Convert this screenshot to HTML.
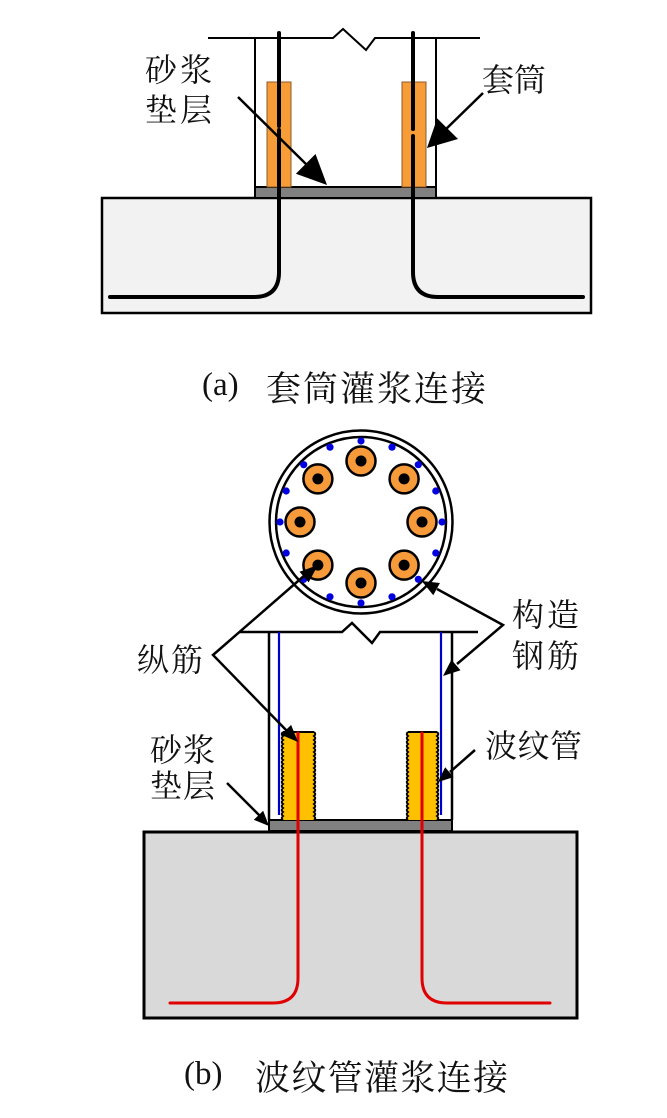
<!DOCTYPE html>
<html>
<head>
<meta charset="utf-8">
<style>
  html,body{margin:0;padding:0;background:#fff;}
  svg{display:block;}
  .cjk{font-family:"Liberation Serif","Noto Serif CJK SC",serif;fill:#111;}
  .lat{font-family:"Liberation Serif",serif;fill:#111;}
</style>
</head>
<body>
<svg width="667" height="1118" viewBox="0 0 667 1118" xmlns="http://www.w3.org/2000/svg">
  <rect x="0" y="0" width="667" height="1118" fill="#fff"/>

  <!-- ================= (a) ================= -->
  <rect x="102" y="198" width="489" height="115" fill="#f2f2f2" stroke="#000" stroke-width="2.5"/>
  <rect x="255" y="187" width="181" height="11" fill="#808080" stroke="#000" stroke-width="2"/>
  <line x1="255" y1="38" x2="255" y2="187" stroke="#000" stroke-width="2"/>
  <line x1="436" y1="38" x2="436" y2="187" stroke="#000" stroke-width="2"/>
  <polyline points="208,38 333,38 343,29 366,50 375,38 480,38" fill="none" stroke="#000" stroke-width="2"/>
  <rect x="267" y="82" width="24" height="105" fill="#F89C38" stroke="#8B5A2B" stroke-width="1"/>
  <rect x="402" y="82" width="24" height="105" fill="#F89C38" stroke="#8B5A2B" stroke-width="1"/>
  <path d="M279,33 V126" fill="none" stroke="#000" stroke-width="4" stroke-linecap="round"/>
  <path d="M279,130 V272 Q279,297 254,297 H110" fill="none" stroke="#000" stroke-width="4" stroke-linecap="round"/>
  <path d="M413,33 V129" fill="none" stroke="#000" stroke-width="4" stroke-linecap="round"/>
  <path d="M413,136 V272 Q413,297 438,297 H583" fill="none" stroke="#000" stroke-width="4" stroke-linecap="round"/>
  <line x1="238" y1="97" x2="310" y2="168" stroke="#000" stroke-width="2.5"/>
  <polygon points="327,185 295.9,173.8 315.5,154" fill="#000"/>
  <line x1="483" y1="93" x2="443" y2="132" stroke="#000" stroke-width="2.5"/>
  <polygon points="427,148 437.2,118.4 458,139" fill="#000"/>
  <text class="cjk" x="145" y="81" font-size="32" textLength="67" lengthAdjust="spacing">砂浆</text>
  <text class="cjk" x="145" y="121" font-size="32" textLength="67" lengthAdjust="spacing">垫层</text>
  <text class="cjk" x="482" y="91" font-size="32" textLength="64" lengthAdjust="spacing">套筒</text>
  <text class="lat" x="202" y="395" font-size="33">(a)</text>
  <text class="cjk" x="266" y="401" font-size="35" textLength="220" lengthAdjust="spacing">套筒灌浆连接</text>

  <!-- ================= (b) ================= -->
  <circle cx="361" cy="522" r="91.5" fill="#fff" stroke="#000" stroke-width="2.5"/>
  <circle cx="361" cy="522" r="85" fill="#fff" stroke="#000" stroke-width="2.5"/>
  <g fill="#0000E0">
    <circle cx="361" cy="441" r="3.6"/>
    <circle cx="361" cy="603" r="3.6"/>
    <circle cx="280" cy="522" r="3.6"/>
    <circle cx="442" cy="522" r="3.6"/>
    <circle cx="392" cy="447.2" r="3.6"/>
    <circle cx="330" cy="447.2" r="3.6"/>
    <circle cx="392" cy="596.8" r="3.6"/>
    <circle cx="330" cy="596.8" r="3.6"/>
    <circle cx="435.8" cy="491" r="3.6"/>
    <circle cx="286.2" cy="491" r="3.6"/>
    <circle cx="435.8" cy="553" r="3.6"/>
    <circle cx="286.2" cy="553" r="3.6"/>
    <circle cx="418.3" cy="464.7" r="3.6"/>
    <circle cx="303.7" cy="464.7" r="3.6"/>
    <circle cx="418.3" cy="579.3" r="3.6"/>
    <circle cx="303.7" cy="579.3" r="3.6"/>
  </g>
  <g stroke="#000" stroke-width="2.5" fill="#F79A3A">
    <circle cx="361" cy="461" r="14.5"/>
    <circle cx="361" cy="583" r="14.5"/>
    <circle cx="300" cy="522" r="14.5"/>
    <circle cx="422" cy="522" r="14.5"/>
    <circle cx="404.1" cy="478.9" r="14.5"/>
    <circle cx="317.9" cy="478.9" r="14.5"/>
    <circle cx="404.1" cy="565.1" r="14.5"/>
    <circle cx="317.9" cy="565.1" r="14.5"/>
  </g>
  <g fill="#000">
    <circle cx="361" cy="461" r="5.5"/>
    <circle cx="361" cy="583" r="5.5"/>
    <circle cx="300" cy="522" r="5.5"/>
    <circle cx="422" cy="522" r="5.5"/>
    <circle cx="404.1" cy="478.9" r="5.5"/>
    <circle cx="317.9" cy="478.9" r="5.5"/>
    <circle cx="404.1" cy="565.1" r="5.5"/>
    <circle cx="317.9" cy="565.1" r="5.5"/>
  </g>

  <rect x="144" y="832" width="433" height="186" fill="#d9d9d9" stroke="#000" stroke-width="3"/>
  <rect x="269" y="820" width="183" height="11" fill="#808080" stroke="#000" stroke-width="2"/>
  <line x1="269" y1="632" x2="269" y2="820" stroke="#000" stroke-width="2.5"/>
  <line x1="452" y1="632" x2="452" y2="820" stroke="#000" stroke-width="2.5"/>
  <polyline points="240,632 342,632 352,623 372,643 380,632 478,632" fill="none" stroke="#000" stroke-width="2.5"/>
  <line x1="279" y1="632" x2="279" y2="815" stroke="#0000CC" stroke-width="2.2"/>
  <line x1="441" y1="632" x2="441" y2="815" stroke="#0000CC" stroke-width="2.2"/>
  <rect x="283" y="732" width="31" height="88" fill="#FFC000"/>
  <rect x="408" y="732" width="29" height="88" fill="#FFC000"/>
  <g fill="none" stroke="#000" stroke-width="2">
    <line x1="283" y1="732" x2="314" y2="732"/>
    <line x1="408" y1="732" x2="437" y2="732"/>
    <path d="M283,732 q-2.5,2,0,4 q-2.5,2,0,4 q-2.5,2,0,4 q-2.5,2,0,4 q-2.5,2,0,4 q-2.5,2,0,4 q-2.5,2,0,4 q-2.5,2,0,4 q-2.5,2,0,4 q-2.5,2,0,4 q-2.5,2,0,4 q-2.5,2,0,4 q-2.5,2,0,4 q-2.5,2,0,4 q-2.5,2,0,4 q-2.5,2,0,4 q-2.5,2,0,4 q-2.5,2,0,4 q-2.5,2,0,4 q-2.5,2,0,4 q-2.5,2,0,4 q-2.5,2,0,4"/>
    <path d="M314,732 q2.5,2,0,4 q2.5,2,0,4 q2.5,2,0,4 q2.5,2,0,4 q2.5,2,0,4 q2.5,2,0,4 q2.5,2,0,4 q2.5,2,0,4 q2.5,2,0,4 q2.5,2,0,4 q2.5,2,0,4 q2.5,2,0,4 q2.5,2,0,4 q2.5,2,0,4 q2.5,2,0,4 q2.5,2,0,4 q2.5,2,0,4 q2.5,2,0,4 q2.5,2,0,4 q2.5,2,0,4 q2.5,2,0,4 q2.5,2,0,4"/>
    <path d="M408,732 q-2.5,2,0,4 q-2.5,2,0,4 q-2.5,2,0,4 q-2.5,2,0,4 q-2.5,2,0,4 q-2.5,2,0,4 q-2.5,2,0,4 q-2.5,2,0,4 q-2.5,2,0,4 q-2.5,2,0,4 q-2.5,2,0,4 q-2.5,2,0,4 q-2.5,2,0,4 q-2.5,2,0,4 q-2.5,2,0,4 q-2.5,2,0,4 q-2.5,2,0,4 q-2.5,2,0,4 q-2.5,2,0,4 q-2.5,2,0,4 q-2.5,2,0,4 q-2.5,2,0,4"/>
    <path d="M437,732 q2.5,2,0,4 q2.5,2,0,4 q2.5,2,0,4 q2.5,2,0,4 q2.5,2,0,4 q2.5,2,0,4 q2.5,2,0,4 q2.5,2,0,4 q2.5,2,0,4 q2.5,2,0,4 q2.5,2,0,4 q2.5,2,0,4 q2.5,2,0,4 q2.5,2,0,4 q2.5,2,0,4 q2.5,2,0,4 q2.5,2,0,4 q2.5,2,0,4 q2.5,2,0,4 q2.5,2,0,4 q2.5,2,0,4 q2.5,2,0,4"/>
  </g>
  <path d="M298,733 V978 Q298,1003 273,1003 H170" fill="none" stroke="#E00000" stroke-width="3" stroke-linecap="round"/>
  <path d="M422,733 V978 Q422,1003 447,1003 H550" fill="none" stroke="#E00000" stroke-width="3" stroke-linecap="round"/>

  <g stroke="#000" stroke-width="2.5" fill="none">
    <polyline points="305,575 213,655 287,731"/>
    <polyline points="437,589 503,625 457,664"/>
    <line x1="475" y1="750" x2="450" y2="772"/>
    <line x1="227" y1="783" x2="259" y2="815"/>
  </g>
  <g fill="#000">
    <polygon points="318,565 308.65,582.4 299.55,571.7"/>
    <polygon points="298,742 281.1,734.7 291.1,724.9"/>
    <polygon points="421.7,581 439.9,582.95 433.3,595.25"/>
    <polygon points="443,676 451.4,659.7 460.5,670.3"/>
    <polygon points="438,782 445.15,767.3 453.65,777.1"/>
    <polygon points="269,826 253.85,819.8 263.15,810.8"/>
  </g>

  <text class="cjk" x="137" y="671" font-size="32" textLength="66" lengthAdjust="spacing">纵筋</text>
  <text class="cjk" x="512" y="626" font-size="32" textLength="67" lengthAdjust="spacing">构造</text>
  <text class="cjk" x="512" y="667" font-size="32" textLength="67" lengthAdjust="spacing">钢筋</text>
  <text class="cjk" x="485" y="757" font-size="32" textLength="97" lengthAdjust="spacing">波纹管</text>
  <text class="cjk" x="150" y="761" font-size="32" textLength="65" lengthAdjust="spacing">砂浆</text>
  <text class="cjk" x="150" y="797" font-size="32" textLength="65" lengthAdjust="spacing">垫层</text>

  <text class="lat" x="184" y="1084" font-size="33">(b)</text>
  <text class="cjk" x="255" y="1090" font-size="35" textLength="253" lengthAdjust="spacing">波纹管灌浆连接</text>
</svg>
</body>
</html>
